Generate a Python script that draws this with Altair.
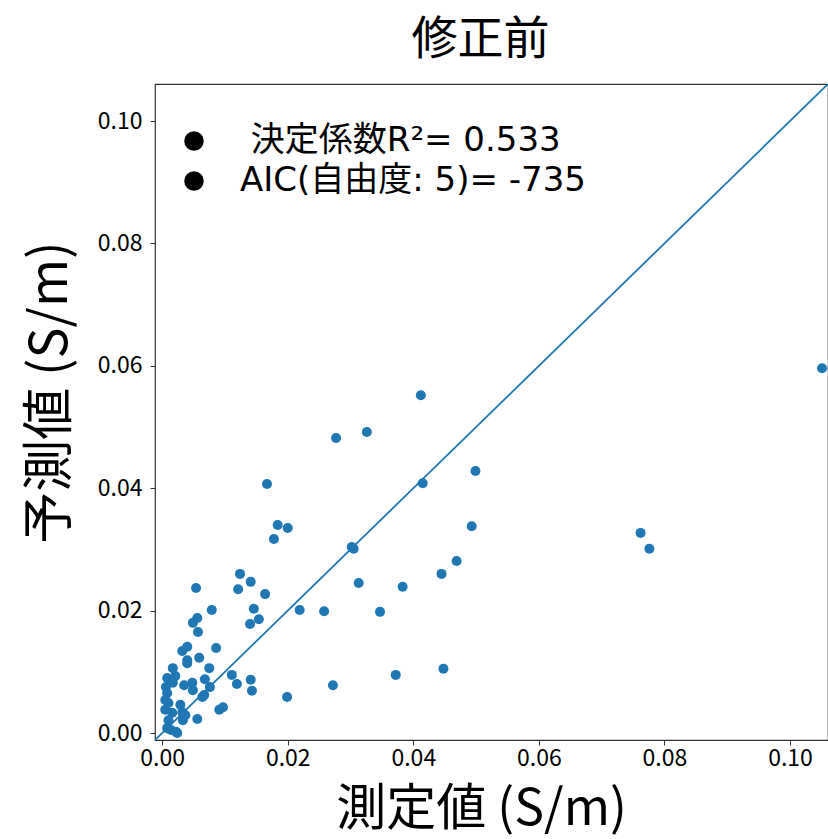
import altair as alt
import pandas as pd

# measured (x) and predicted (y) conductivity, S/m
measured = [0.1051, 0.0762, 0.0776, 0.0412, 0.0277, 0.0326, 0.0415, 0.0499, 0.0493, 0.0302,
            0.0305, 0.0469, 0.0445, 0.0313, 0.0383, 0.0219, 0.0258, 0.0347, 0.0272, 0.0372,
            0.0448, 0.0167, 0.0184, 0.0200, 0.0178, 0.0124, 0.0141, 0.0121, 0.0164, 0.0054,
            0.0079, 0.0146, 0.0154, 0.0140, 0.0056, 0.0049, 0.0057, 0.0040, 0.0032, 0.0086,
            0.0059, 0.0040, 0.0075, 0.0111, 0.0119, 0.0141, 0.0143, 0.0068, 0.0076, 0.0067,
            0.0097, 0.0091, 0.0199, 0.0056, 0.0017, 0.0008, 0.0021, 0.0035, 0.0048, 0.0049,
            0.0064, 0.0008, 0.0010, 0.0016, 0.0010, 0.0014, 0.0022, 0.0032, 0.0029, 0.0033,
            0.0037, 0.0017, 0.0006, 0.0005, 0.0005, 0.0008, 0.0024, 0.0040]
predicted = [0.0596, 0.0327, 0.0301, 0.0552, 0.0482, 0.0492, 0.0408, 0.0428, 0.0338, 0.0304,
             0.0301, 0.0281, 0.0260, 0.0245, 0.0239, 0.0201, 0.0199, 0.0198, 0.0078, 0.0095,
             0.0105, 0.0407, 0.0340, 0.0335, 0.0317, 0.0260, 0.0247, 0.0235, 0.0227, 0.0237,
             0.0201, 0.0203, 0.0186, 0.0178, 0.0188, 0.0180, 0.0165, 0.0141, 0.0134, 0.0139,
             0.0123, 0.0119, 0.0106, 0.0095, 0.0080, 0.0087, 0.0069, 0.0088, 0.0075, 0.0062,
             0.0042, 0.0038, 0.0059, 0.0023, 0.0106, 0.0090, 0.0093, 0.0078, 0.0082, 0.0070,
             0.0059, 0.0065, 0.0049, 0.0033, 0.0021, 0.0005, 0.0002, 0.0034, 0.0046, 0.0021,
             0.0029, 0.0082, 0.0075, 0.0054, 0.0038, 0.0008, 0.0000, 0.0114]

axis_limits = [-0.00114, 0.10605]
tick_values = [0.0, 0.02, 0.04, 0.06, 0.08, 0.10]
legend_labels = ["\u200b\u00a0決定係数R²= 0.533", "AIC(自由度: 5)= -735"]

FONT = "Noto Sans CJK JP"
LEGEND_FONT = "DejaVu Sans, Noto Sans CJK JP"
BLUE = "#1f77b4"

points = pd.DataFrame({"measured": measured, "predicted": predicted})
diag = pd.DataFrame({"measured": axis_limits, "predicted": axis_limits})
legend_df = pd.DataFrame({"label": legend_labels})

xscale = alt.Scale(domain=axis_limits, nice=False, zero=False)
yscale = alt.Scale(domain=axis_limits, nice=False, zero=False)

xaxis = alt.Axis(values=tick_values, format=".2f", title="測定値 (S/m)",
                 titleFontSize=50, titleFont=FONT, titleFontWeight="normal", titleColor="black",
                 titleX=326, titleY=69, titleBaseline="middle", titleAlign="center",
                 labelFontSize=23, labelFont=FONT, labelColor="black", labelPadding=2,
                 tickSize=5, tickColor="#333", domain=False, grid=False)
yaxis = alt.Axis(values=tick_values, format=".2f", title="予測値 (S/m)",
                 titleFontSize=52, titleFont=FONT, titleFontWeight="normal", titleColor="black",
                 titleX=-105, titleY=308, titleBaseline="middle", titleAlign="center", titleAngle=270,
                 labelFontSize=23, labelFont=FONT, labelColor="black", labelPadding=8,
                 tickSize=5, tickColor="#333", domain=False, grid=False)

scatter = alt.Chart(points).mark_circle(size=100, color=BLUE, opacity=1).encode(
    x=alt.X("measured:Q", scale=xscale, axis=xaxis),
    y=alt.Y("predicted:Q", scale=yscale, axis=yaxis),
)

line = alt.Chart(diag).mark_line(color=BLUE, strokeWidth=1.8, clip=True).encode(
    x=alt.X("measured:Q", scale=xscale),
    y=alt.Y("predicted:Q", scale=yscale),
)

legend_layer = alt.Chart(legend_df).mark_point(opacity=0, filled=True, size=1).encode(
    x=alt.value(10),
    y=alt.value(10),
    color=alt.Color("label:N", sort=legend_labels,
                    scale=alt.Scale(domain=legend_labels, range=["black", "black"]),
                    legend=alt.Legend(title=None, orient="none", legendX=22, legendY=40,
                                      symbolType="circle", symbolSize=380, symbolOpacity=1,
                                      symbolFillColor="black", symbolStrokeColor="black",
                                      symbolStrokeWidth=0,
                                      labelFontSize=34, labelFont=LEGEND_FONT, labelColor="black",
                                      labelOffset=29, rowPadding=6, padding=0,
                                      labelLimit=600)),
)

chart = alt.layer(line, scatter, legend_layer).properties(
    width=673, height=656,
    autosize=alt.AutoSizeParams(type="none"),
    padding={"left": 155, "top": 84, "right": 0, "bottom": 99},
    title=alt.TitleParams("修正前", fontSize=46, font=FONT, fontWeight="normal", color="black",
                          anchor="middle", dx=-11, dy=50, offset=24, baseline="bottom"),
).configure(background="white").configure_view(stroke="#333", strokeWidth=1.2)

chart.save("out.html", embed_options={"renderer": "svg", "actions": False})
